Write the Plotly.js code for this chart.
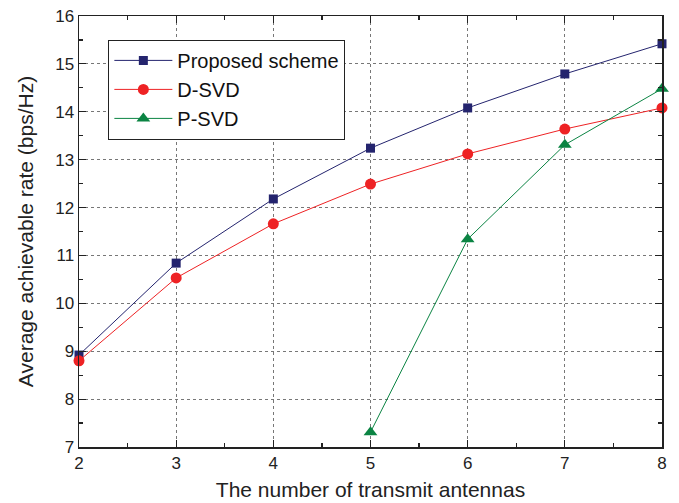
<!DOCTYPE html>
<html><head><meta charset="utf-8">
<script src="https://cdn.plot.ly/plotly-3.0.1.min.js"></script>
<style>html,body{margin:0;padding:0;background:#fff;}#chart{width:679px;height:503px;}</style>
</head><body><div id="chart"></div>
<script>
const antennas = [2, 3, 4, 5, 6, 7, 8];
const proposed = [8.92, 10.84, 12.18, 13.24, 14.08, 14.79, 15.42];
const dsvd = [8.80, 10.53, 11.66, 12.49, 13.12, 13.64, 14.08];
const psvdX = [5, 6, 7, 8];
const psvd = [7.31, 11.34, 13.31, 14.48];

const font = '"Liberation Sans", Arial, sans-serif';
const traces = [
  {x: antennas, y: proposed, name: 'Proposed scheme', mode: 'lines+markers',
   line: {color: '#24246e', width: 1}, marker: {symbol: 'square', size: 9, color: '#24246e'}, cliponaxis: false},
  {x: antennas, y: dsvd, name: 'D-SVD', mode: 'lines+markers',
   line: {color: '#ee2224', width: 1}, marker: {symbol: 'circle', size: 11, color: '#ee2224'}, cliponaxis: false},
  {x: psvdX, y: psvd, name: 'P-SVD', mode: 'lines+markers',
   line: {color: '#0b8443', width: 1}, marker: {symbol: 'triangle-up', size: 12, color: '#0b8443'}, cliponaxis: false}
];
const axisCommon = {
  showline: true, linecolor: '#222', linewidth: 1.5, mirror: 'allticks',
  ticks: 'inside', ticklen: 7, tickwidth: 1.2, tickcolor: '#222',
  showgrid: true, gridcolor: '#777', griddash: 'dot', gridwidth: 1,
  zeroline: false, tickfont: {family: font, size: 17, color: '#222'}
};
const layout = {
  width: 679, height: 503,
  margin: {l: 79, r: 17, t: 16, b: 56},
  paper_bgcolor: '#fff', plot_bgcolor: '#fff',
  showlegend: true,
  legend: {x: 0.05, y: 0.945, xanchor: 'left', yanchor: 'top',
    bordercolor: '#222', borderwidth: 1.2, bgcolor: '#fff',
    font: {family: font, size: 20, color: '#111'}, tracegroupgap: 0, itemwidth: 58},
  xaxis: Object.assign({}, axisCommon, {
    range: [2, 8], dtick: 1, tick0: 2, automargin: false,
    minor: {ticks: 'inside', dtick: 0.5, ticklen: 4, tickcolor: '#222', showgrid: false},
    title: {text: 'The number of transmit antennas', font: {family: font, size: 21, color: '#222'}, standoff: 10}
  }),
  yaxis: Object.assign({}, axisCommon, {
    range: [7, 16], dtick: 1, tick0: 7, automargin: 'left',
    minor: {ticks: 'inside', dtick: 0.5, ticklen: 4, tickcolor: '#222', showgrid: false},
    title: {text: 'Average achievable rate (bps/Hz)', font: {family: font, size: 21, color: '#222'}, standoff: 16}
  })
};
Plotly.newPlot('chart', traces, layout, {displayModeBar: false, staticPlot: true});
</script></body></html>
